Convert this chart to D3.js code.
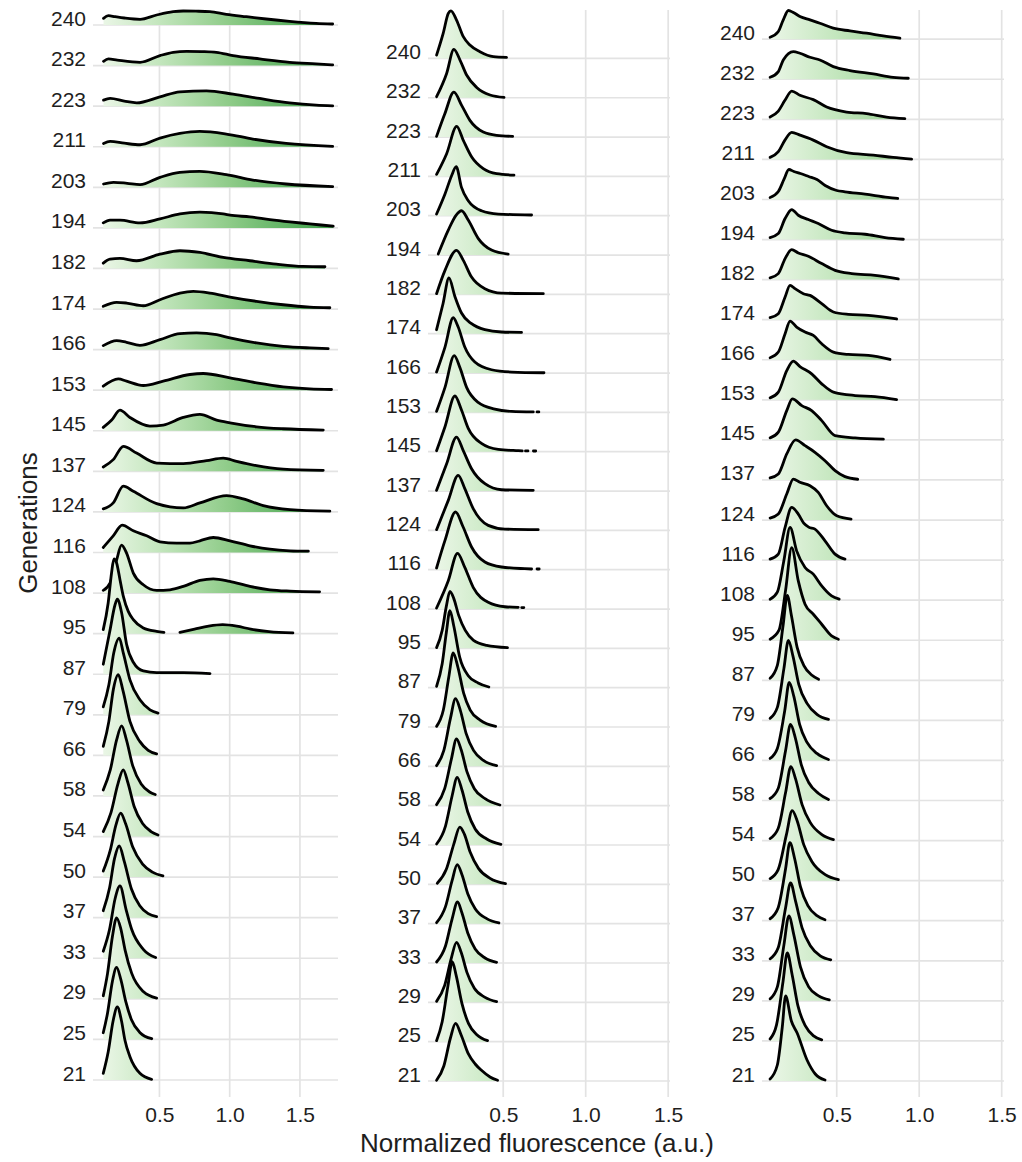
<!DOCTYPE html>
<html>
<head>
<meta charset="utf-8">
<script src="https://cdn.jsdelivr.net/npm/d3@7"></script>
<style>
  html, body { margin: 0; padding: 0; background: #ffffff; }
  svg { display: block; font-family: "Liberation Sans", Arial, Helvetica, sans-serif; }
</style>
</head>
<body>
<svg id="chart" width="1022" height="1162"></svg>
<script>
// Generations sampled (bottom row first)
const generations = [21, 25, 29, 33, 37, 50, 54, 58, 66, 79, 87, 95, 108, 116, 124, 137, 145, 153, 166, 174, 182, 194, 203, 211, 223, 232, 240];
const xTickValues = [0.5, 1.0, 1.5];
const xTitle = "Normalized fluorescence (a.u.)";
const yTitle = "Generations";

// Fill colour as a function of fluorescence value
const fillStops = [[0.1, "#eaf6e6"], [0.5, "#c3e6bd"], [1.0, "#8ecb88"], [1.5, "#55ad5b"], [1.75, "#3c9a48"]];

// Density estimates per generation: [fluorescence, density]; null breaks the curve
const ridgesA = [
  [[0.1,0.67],[0.135,2.8],[0.17,5.9],[0.2,7.3],[0.23,5.9],[0.254,4.0],[0.29,2.33],[0.361,0.67],[0.444,0.07]],
  [[0.1,0.67],[0.13,2.6],[0.165,5.8],[0.195,7.2],[0.225,6.0],[0.26,3.8],[0.3,2.0],[0.36,0.7],[0.445,0.07]],
  [[0.1,0.3],[0.13,2.5],[0.165,6.2],[0.195,8.1],[0.225,7.0],[0.255,4.9],[0.302,2.57],[0.385,0.73],[0.48,0.07]],
  [[0.1,0.7],[0.145,2.9],[0.185,6.0],[0.219,7.23],[0.262,4.9],[0.302,2.9],[0.385,0.9],[0.473,0.07]],
  [[0.1,0.7],[0.145,3.0],[0.18,5.9],[0.214,7.17],[0.25,5.6],[0.3,2.9],[0.36,1.2],[0.42,0.4],[0.48,0.1]],
  [[0.1,0.6],[0.15,2.7],[0.19,5.2],[0.224,6.4],[0.26,5.3],[0.31,3.0],[0.38,1.3],[0.45,0.5],[0.525,0.12]],
  [[0.1,0.5],[0.155,2.4],[0.205,5.3],[0.242,6.67],[0.275,5.4],[0.32,3.0],[0.38,1.3],[0.44,0.5],[0.49,0.15]],
  [[0.1,0.6],[0.15,2.6],[0.195,5.6],[0.231,7.0],[0.265,5.6],[0.31,3.0],[0.37,1.2],[0.43,0.4],[0.47,0.15]],
  [[0.1,0.9],[0.14,3.4],[0.172,6.6],[0.207,8.07],[0.24,6.5],[0.29,3.4],[0.36,1.4],[0.42,0.5],[0.48,0.15]],
  [[0.1,0.8],[0.14,3.0],[0.175,6.2],[0.214,7.67],[0.243,6.17],[0.29,3.5],[0.361,1.5],[0.433,0.5],[0.49,0.17]],
  [[0.1,1.0],[0.148,4.4],[0.183,6.9],[0.2,7.5],[0.23,6.2],[0.266,3.0],[0.314,1.2],[0.385,0.33],[0.48,0.17],[0.67,0.17],[0.86,0.07]],
  [[0.1,0.4],[0.135,3.07],[0.159,6.07],[0.176,7.47],[0.195,7.07],[0.219,5.4],[0.243,3.73],[0.278,2.23],[0.314,1.4],[0.385,0.57],[0.48,0.23],[0.532,0.13], null,
   [0.646,0.13],[0.75,0.45],[0.85,0.75],[0.95,0.9],[1.05,0.75],[1.15,0.45],[1.28,0.2],[1.45,0.07]],
  [[0.1,0.27],[0.148,1.0],[0.195,3.3],[0.23,4.8],[0.266,4.0],[0.314,2.0],[0.385,0.83],[0.48,0.27],[0.575,0.33],[0.67,0.67],[0.788,1.27],[0.883,1.43],[1.0,1.17],[1.144,0.67],[1.286,0.33],[1.429,0.2],[1.64,0.13]],
  [[0.1,0.5],[0.171,1.67],[0.235,2.73],[0.314,2.17],[0.409,1.67],[0.504,1.07],[0.622,0.93],[0.717,0.93],[0.788,1.17],[0.883,1.5],[1.002,1.17],[1.144,0.67],[1.286,0.33],[1.429,0.17],[1.56,0.13]],
  [[0.1,0.3],[0.171,0.9],[0.243,2.57],[0.314,2.07],[0.48,0.83],[0.67,0.4],[0.788,0.9],[0.978,1.63],[1.097,1.3],[1.239,0.63],[1.429,0.23],[1.713,0.07]],
  [[0.1,0.43],[0.171,1.17],[0.243,2.5],[0.337,1.83],[0.48,0.83],[0.67,0.77],[0.835,1.07],[0.954,1.33],[1.049,1.0],[1.191,0.57],[1.381,0.23],[1.666,0.1]],
  [[0.1,0.33],[0.16,1.07],[0.219,2.07],[0.29,1.33],[0.432,0.47],[0.527,0.57],[0.67,1.33],[0.788,1.63],[0.907,1.07],[1.002,0.8],[1.191,0.4],[1.381,0.2],[1.666,0.07]],
  [[0.1,0.4],[0.207,1.13],[0.266,0.9],[0.385,0.47],[0.527,0.9],[0.717,1.57],[0.812,1.67],[1.002,1.23],[1.191,0.73],[1.381,0.33],[1.571,0.13],[1.725,0.07]],
  [[0.1,0.4],[0.195,0.9],[0.266,0.73],[0.361,0.43],[0.504,1.0],[0.646,1.6],[0.764,1.67],[0.907,1.5],[1.002,1.17],[1.191,0.67],[1.381,0.33],[1.571,0.17],[1.701,0.1]],
  [[0.1,0.27],[0.195,0.67],[0.266,0.6],[0.385,0.33],[0.504,0.93],[0.646,1.6],[0.741,1.77],[0.859,1.6],[1.002,1.2],[1.191,0.77],[1.381,0.43],[1.571,0.2],[1.713,0.13]],
  [[0.1,0.53],[0.148,0.93],[0.219,1.0],[0.337,0.77],[0.504,1.43],[0.646,1.77],[0.788,1.6],[0.954,1.1],[1.144,0.77],[1.333,0.43],[1.523,0.2],[1.678,0.17]],
  [[0.1,0.5],[0.148,0.77],[0.219,0.77],[0.361,0.5],[0.504,0.9],[0.646,1.4],[0.788,1.57],[0.954,1.4],[1.002,1.27],[1.144,1.1],[1.286,0.83],[1.429,0.6],[1.571,0.4],[1.737,0.17]],
  [[0.102,0.33],[0.173,0.5],[0.27,0.4],[0.362,0.27],[0.504,1.0],[0.645,1.5],[0.787,1.6],[0.976,1.27],[1.165,0.73],[1.402,0.33],[1.733,0.07]],
  [[0.102,0.33],[0.149,0.53],[0.25,0.35],[0.362,0.2],[0.504,0.87],[0.645,1.33],[0.787,1.53],[0.976,1.27],[1.165,0.77],[1.402,0.33],[1.733,0.03]],
  [[0.102,0.6],[0.149,0.77],[0.25,0.5],[0.338,0.33],[0.504,0.93],[0.645,1.43],[0.835,1.53],[1.024,1.2],[1.213,0.77],[1.426,0.33],[1.615,0.1],[1.733,0.03]],
  [[0.102,0.43],[0.137,0.67],[0.2,0.55],[0.362,0.33],[0.504,1.0],[0.598,1.33],[0.693,1.43],[0.8,1.4],[0.905,1.33],[1.024,1.0],[1.213,0.67],[1.426,0.33],[1.615,0.17],[1.733,0.07]],
  [[0.102,0.67],[0.137,0.93],[0.184,0.83],[0.25,0.7],[0.362,0.57],[0.48,1.0],[0.598,1.33],[0.669,1.4],[0.76,1.38],[0.858,1.33],[0.976,1.07],[1.118,0.83],[1.26,0.6],[1.426,0.37],[1.615,0.17],[1.733,0.1]]
];

const ridgesB = [
  [[0.096,0.07],[0.14,1.5],[0.18,4.3],[0.211,5.77],[0.245,4.6],[0.288,2.73],[0.33,1.7],[0.368,1.07],[0.42,0.4],[0.466,0.07]],
  [[0.096,0.1],[0.13,2.0],[0.165,5.6],[0.191,8.0],[0.215,6.6],[0.25,3.8],[0.29,1.8],[0.34,0.7],[0.405,0.1]],
  [[0.096,0.1],[0.145,1.7],[0.185,4.4],[0.217,6.0],[0.245,5.0],[0.28,3.0],[0.325,1.4],[0.39,0.5],[0.46,0.07]],
  [[0.096,0.1],[0.15,1.7],[0.19,4.4],[0.223,6.1],[0.25,5.0],[0.285,3.0],[0.33,1.4],[0.39,0.5],[0.46,0.07]],
  [[0.096,0.1],[0.15,1.7],[0.19,4.3],[0.221,5.9],[0.25,4.9],[0.285,3.0],[0.33,1.5],[0.4,0.5],[0.474,0.07]],
  [[0.1,0.1],[0.155,1.5],[0.2,4.0],[0.237,5.73],[0.265,5.0],[0.3,3.2],[0.35,1.6],[0.42,0.6],[0.514,0.07]],
  [[0.096,0.1],[0.15,1.9],[0.19,4.9],[0.221,6.77],[0.25,5.5],[0.285,3.3],[0.33,1.6],[0.4,0.6],[0.486,0.07]],
  [[0.096,0.1],[0.145,1.7],[0.185,4.6],[0.217,6.67],[0.245,5.6],[0.28,3.4],[0.325,1.7],[0.39,0.7],[0.48,0.07]],
  [[0.096,0.07],[0.14,1.6],[0.18,4.8],[0.211,6.77],[0.24,5.6],[0.275,3.3],[0.32,1.6],[0.38,0.6],[0.46,0.07]],
  [[0.096,0.07],[0.137,1.7],[0.17,5.0],[0.197,7.4],[0.225,6.0],[0.26,3.4],[0.3,1.7],[0.36,0.7],[0.454,0.07]],
  [[0.096,0.13],[0.13,2.4],[0.155,5.5],[0.177,7.7],[0.2,6.2],[0.237,3.0],[0.288,1.2],[0.348,0.47],[0.413,0.07]],
  [[0.096,0.07],[0.13,1.8],[0.155,4.2],[0.177,5.7],[0.2,5.0],[0.23,3.3],[0.27,1.8],[0.32,0.8],[0.4,0.3],[0.526,0.07]],
  [[0.096,0.1],[0.167,2.83],[0.223,5.57],[0.267,4.17],[0.318,2.17],[0.409,0.67],[0.51,0.23],[0.591,0.17], null, [0.612,0.15],[0.625,0.15]],
  [[0.096,0.17],[0.147,2.93],[0.211,5.77],[0.257,4.27],[0.308,2.27],[0.389,0.77],[0.49,0.27],[0.631,0.1],[0.672,0.07], null, [0.705,0.07],[0.718,0.07]],
  [[0.096,0.07],[0.167,3.0],[0.227,5.5],[0.267,4.17],[0.318,2.17],[0.409,0.5],[0.51,0.13],[0.712,0.07]],
  [[0.096,0.07],[0.157,2.73],[0.217,5.4],[0.257,4.07],[0.308,2.23],[0.389,0.73],[0.49,0.13],[0.682,0.07]],
  [[0.096,0.1],[0.147,2.5],[0.207,5.57],[0.247,4.17],[0.288,2.33],[0.368,0.83],[0.47,0.23],[0.591,0.1],[0.615,0.08], null, [0.635,0.08],[0.65,0.08], null, [0.683,0.07],[0.697,0.07]],
  [[0.096,0.1],[0.147,2.5],[0.203,5.67],[0.237,4.5],[0.278,2.5],[0.348,1.0],[0.449,0.33],[0.551,0.1],[0.682,0.05], null, [0.705,0.05],[0.716,0.05]],
  [[0.096,0.1],[0.147,2.6],[0.197,5.53],[0.227,4.6],[0.267,2.6],[0.328,1.1],[0.429,0.33],[0.551,0.1],[0.747,0.03]],
  [[0.096,0.4],[0.135,3.0],[0.171,5.57],[0.207,3.73],[0.247,2.07],[0.308,1.0],[0.389,0.4],[0.49,0.17],[0.611,0.13]],
  [[0.096,0.07],[0.147,2.4],[0.217,4.4],[0.258,3.4],[0.308,1.73],[0.389,0.57],[0.49,0.13],[0.743,0.07]],
  [[0.106,0.1],[0.167,2.5],[0.215,4.0],[0.247,4.43],[0.288,3.5],[0.348,1.67],[0.429,0.5],[0.53,0.1]],
  [[0.096,0.17],[0.147,2.17],[0.187,4.0],[0.215,4.9],[0.247,2.83],[0.288,1.5],[0.368,0.5],[0.47,0.17],[0.672,0.07]],
  [[0.096,0.2],[0.157,2.27],[0.218,5.0],[0.258,3.6],[0.309,1.93],[0.379,0.77],[0.46,0.27],[0.565,0.13]],
  [[0.096,0.07],[0.146,2.33],[0.201,4.5],[0.248,3.17],[0.298,1.67],[0.379,0.5],[0.46,0.17],[0.557,0.07]],
  [[0.096,0.1],[0.157,2.43],[0.201,4.83],[0.238,3.77],[0.278,2.27],[0.339,1.03],[0.42,0.27],[0.505,0.03]],
  [[0.096,0.33],[0.136,2.5],[0.167,4.5],[0.183,4.76],[0.217,3.83],[0.258,2.17],[0.298,1.33],[0.359,0.67],[0.44,0.17],[0.52,0.1]]
];

const ridgesC = [
  [[0.096,0.2],[0.14,1.6],[0.17,5.4],[0.19,8.5],[0.225,6.0],[0.26,4.8],[0.32,2.1],[0.37,0.7],[0.429,0.1]],
  [[0.096,0.2],[0.135,1.6],[0.175,6.0],[0.2,8.8],[0.23,6.6],[0.265,3.5],[0.31,1.5],[0.36,0.5],[0.409,0.1]],
  [[0.096,0.2],[0.14,1.4],[0.18,5.6],[0.21,8.5],[0.24,6.6],[0.28,3.4],[0.33,1.4],[0.39,0.5],[0.455,0.1]],
  [[0.096,0.2],[0.145,1.3],[0.19,5.3],[0.22,7.8],[0.25,6.0],[0.29,3.3],[0.34,1.5],[0.4,0.5],[0.464,0.1]],
  [[0.096,0.2],[0.145,1.3],[0.19,5.2],[0.216,7.8],[0.245,6.2],[0.28,3.4],[0.325,1.5],[0.38,0.5],[0.429,0.1]],
  [[0.096,0.2],[0.145,1.1],[0.195,4.6],[0.23,7.0],[0.26,6.0],[0.3,3.6],[0.35,1.9],[0.43,0.6],[0.51,0.1]],
  [[0.096,0.2],[0.145,1.2],[0.19,4.8],[0.222,7.4],[0.25,6.2],[0.29,3.6],[0.34,1.8],[0.41,0.6],[0.48,0.1]],
  [[0.096,0.2],[0.145,1.2],[0.19,5.0],[0.22,7.6],[0.25,6.2],[0.285,3.6],[0.33,1.8],[0.39,0.7],[0.45,0.1]],
  [[0.096,0.2],[0.14,1.2],[0.185,5.0],[0.212,7.8],[0.24,6.4],[0.275,3.6],[0.32,1.8],[0.38,0.7],[0.45,0.1]],
  [[0.096,0.2],[0.14,1.3],[0.18,5.2],[0.207,8.0],[0.235,6.4],[0.27,3.6],[0.32,1.7],[0.38,0.6],[0.45,0.1]],
  [[0.096,0.2],[0.14,1.5],[0.175,5.5],[0.2,8.5],[0.225,6.5],[0.26,3.3],[0.3,1.5],[0.35,0.5],[0.39,0.1]],
  [[0.096,0.1],[0.15,1.0],[0.19,5.0],[0.227,9.27],[0.267,5.93],[0.308,3.6],[0.358,2.6],[0.409,1.6],[0.469,0.43],[0.51,0.1]],
  [[0.096,0.1],[0.14,0.8],[0.18,4.0],[0.217,7.27],[0.257,4.93],[0.308,3.27],[0.358,2.6],[0.409,1.43],[0.469,0.43],[0.515,0.1]],
  [[0.096,0.1],[0.146,0.6],[0.187,3.27],[0.227,5.27],[0.267,4.6],[0.3,3.7],[0.33,3.3],[0.368,3.1],[0.429,1.93],[0.49,0.6],[0.55,0.1]],
  [[0.096,0.2],[0.146,0.6],[0.197,2.6],[0.237,4.1],[0.277,3.77],[0.338,3.43],[0.388,2.77],[0.439,1.43],[0.5,0.43],[0.587,0.1]],
  [[0.096,0.2],[0.146,0.6],[0.197,2.6],[0.251,4.0],[0.308,3.43],[0.368,2.77],[0.429,1.93],[0.49,0.93],[0.55,0.33],[0.627,0.07]],
  [[0.096,0.2],[0.146,0.77],[0.197,2.93],[0.231,4.1],[0.288,3.43],[0.348,2.93],[0.409,1.93],[0.49,0.43],[0.611,0.2],[0.783,0.07]],
  [[0.096,0.2],[0.146,0.77],[0.197,2.93],[0.237,3.87],[0.277,3.33],[0.348,2.6],[0.409,1.6],[0.48,0.77],[0.611,0.43],[0.732,0.33],[0.863,0.03]],
  [[0.096,0.2],[0.146,0.77],[0.187,2.6],[0.217,3.87],[0.257,3.27],[0.308,2.77],[0.358,2.43],[0.409,1.6],[0.48,0.77],[0.57,0.53],[0.692,0.43],[0.823,0.03]],
  [[0.096,0.2],[0.146,0.6],[0.187,2.27],[0.217,3.43],[0.247,3.1],[0.298,2.6],[0.338,2.43],[0.409,1.6],[0.48,0.77],[0.57,0.53],[0.692,0.43],[0.863,0.07]],
  [[0.096,0.17],[0.146,0.6],[0.187,2.1],[0.227,3.0],[0.267,2.67],[0.328,2.33],[0.409,1.6],[0.49,0.93],[0.591,0.6],[0.732,0.43],[0.873,0.07]],
  [[0.096,0.2],[0.146,0.6],[0.187,2.1],[0.227,3.0],[0.267,2.43],[0.328,2.0],[0.388,1.6],[0.469,0.93],[0.55,0.67],[0.672,0.53],[0.793,0.2],[0.904,0.03]],
  [[0.096,0.2],[0.146,0.8],[0.18,2.0],[0.21,3.0],[0.24,2.8],[0.28,2.6],[0.33,2.3],[0.38,2.0],[0.43,1.4],[0.5,0.9],[0.55,0.77],[0.672,0.53],[0.81,0.2],[0.87,0.1]],
  [[0.096,0.2],[0.146,0.77],[0.186,1.93],[0.227,2.7],[0.277,2.43],[0.358,1.93],[0.439,1.27],[0.56,0.67],[0.722,0.43],[0.842,0.2],[0.954,0.03]],
  [[0.096,0.23],[0.146,0.83],[0.186,1.9],[0.227,2.83],[0.277,2.4],[0.358,1.97],[0.439,1.23],[0.56,0.73],[0.681,0.57],[0.802,0.23],[0.913,0.07]],
  [[0.096,0.2],[0.146,0.77],[0.176,1.93],[0.237,2.77],[0.277,2.6],[0.338,2.2],[0.398,1.93],[0.479,1.27],[0.58,0.87],[0.722,0.53],[0.842,0.2],[0.934,0.1]],
  [[0.096,0.2],[0.146,0.77],[0.176,1.93],[0.207,2.87],[0.237,2.67],[0.277,2.27],[0.338,1.93],[0.398,1.6],[0.479,1.1],[0.58,0.83],[0.681,0.6],[0.782,0.33],[0.883,0.1]]
];

// ---- layout ----
const panelTop = 10, panelBottom = 1097;
const panels = [
  { id: "a", ridges: ridgesA, xRange: [93, 338],  xDomain: [0.027, 1.771], yRange: [1080, 25] },
  { id: "b", ridges: ridgesB, xRange: [428, 670], xDomain: [0.044, 1.511], yRange: [1081, 58.4] },
  { id: "c", ridges: ridgesC, xRange: [762, 1004], xDomain: [0.047, 1.514], yRange: [1081, 39.2] }
];

const gridColor = "#e3e3e3";
const textColor = "#1e1e1e";

const svg = d3.select("#chart");
const defs = svg.append("defs");

// density -> pixel height
const hScale = d3.scaleLinear().domain([0, 1]).range([0, 10]);

panels.forEach(p => {
  const x = d3.scaleLinear().domain(p.xDomain).range(p.xRange);
  const y = d3.scalePoint().domain(generations).range(p.yRange);
  const g = svg.append("g");

  // gradient fill along the fluorescence axis
  const lo = fillStops[0][0], hi = fillStops[fillStops.length - 1][0];
  const grad = defs.append("linearGradient")
    .attr("id", "fill-" + p.id)
    .attr("gradientUnits", "userSpaceOnUse")
    .attr("x1", x(lo)).attr("x2", x(hi)).attr("y1", 0).attr("y2", 0);
  grad.selectAll("stop").data(fillStops).join("stop")
    .attr("offset", d => (d[0] - lo) / (hi - lo))
    .attr("stop-color", d => d[1]);

  // vertical grid lines
  g.append("g").selectAll("line").data(xTickValues).join("line")
    .attr("x1", d => x(d)).attr("x2", d => x(d))
    .attr("y1", panelTop).attr("y2", panelBottom)
    .attr("stroke", gridColor).attr("stroke-width", 1.7);

  // horizontal grid lines at ridge baselines
  g.append("g").selectAll("line").data(generations).join("line")
    .attr("x1", p.xRange[0]).attr("x2", p.xRange[1])
    .attr("y1", d => y(d)).attr("y2", d => y(d))
    .attr("stroke", gridColor).attr("stroke-width", 1.7);

  // ridges, drawn from the top row down so lower rows overlap
  const order = d3.range(generations.length).reverse();
  const ridgeG = g.append("g");
  order.forEach(i => {
    const base = y(generations[i]);
    const pts = p.ridges[i];
    const area = d3.area()
      .defined(d => d !== null)
      .x(d => x(d[0]))
      .y0(base)
      .y1(d => base - hScale(d[1]))
      .curve(d3.curveMonotoneX);
    const line = d3.line()
      .defined(d => d !== null)
      .x(d => x(d[0]))
      .y(d => base - hScale(d[1]))
      .curve(d3.curveMonotoneX);
    ridgeG.append("path")
      .attr("d", area(pts))
      .attr("fill", "url(#fill-" + p.id + ")");
    ridgeG.append("path")
      .attr("d", line(pts))
      .attr("fill", "none")
      .attr("stroke", "#000")
      .attr("stroke-width", 2.8)
      .attr("stroke-linejoin", "round")
      .attr("stroke-linecap", "round");
  });

  // x axis labels
  const xAxis = g.append("g")
    .attr("transform", `translate(0,${panelBottom})`)
    .call(d3.axisBottom(x).tickValues(xTickValues).tickFormat(d3.format(".1f")).tickSize(0).tickPadding(10));
  xAxis.select(".domain").remove();
  xAxis.selectAll("text")
    .attr("font-size", 21)
    .attr("font-family", "Liberation Sans, Arial, Helvetica, sans-serif")
    .attr("fill", textColor);

  // y axis labels (text sits on the ridge baseline)
  const yAxis = g.append("g")
    .attr("transform", `translate(${p.xRange[0]},0)`)
    .call(d3.axisLeft(y).tickSize(0).tickPadding(7));
  yAxis.select(".domain").remove();
  yAxis.selectAll("text")
    .attr("dy", "0")
    .attr("font-size", 21)
    .attr("font-family", "Liberation Sans, Arial, Helvetica, sans-serif")
    .attr("fill", textColor);
});

// axis titles
svg.append("text")
  .attr("x", 537).attr("y", 1152)
  .attr("text-anchor", "middle")
  .attr("font-size", 26)
  .attr("fill", textColor)
  .text(xTitle);

svg.append("text")
  .attr("transform", "translate(37,523) rotate(-90)")
  .attr("text-anchor", "middle")
  .attr("font-size", 26)
  .attr("fill", textColor)
  .text(yTitle);
</script>
</body>
</html>
